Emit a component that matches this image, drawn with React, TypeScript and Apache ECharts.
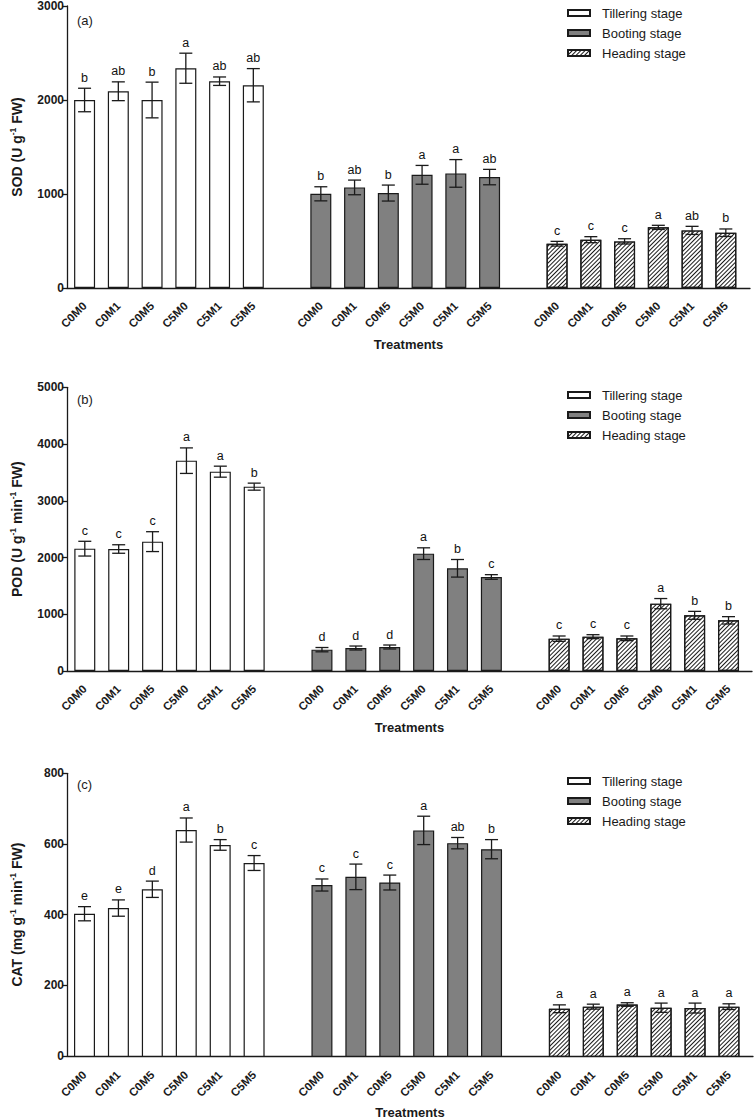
import React, { useEffect, useRef } from 'react';
import * as echarts from 'echarts';

const treatments = ['C0M0', 'C0M1', 'C0M5', 'C5M0', 'C5M1', 'C5M5'];
const stages = ['Tillering stage', 'Booting stage', 'Heading stage'];

// (a) SOD
const sodTillering = [2000, 2093, 2000, 2338, 2200, 2157];
const sodTilleringErr = [125, 100, 190, 160, 45, 177];
const sodTilleringLetters = ['b', 'ab', 'b', 'a', 'ab', 'ab'];
const sodBooting = [1002, 1070, 1010, 1204, 1219, 1180];
const sodBootingErr = [75, 78, 85, 100, 147, 82];
const sodBootingLetters = ['b', 'ab', 'b', 'a', 'a', 'ab'];
const sodHeading = [471, 514, 496, 645, 613, 588];
const sodHeadingErr = [25, 32, 28, 22, 43, 40];
const sodHeadingLetters = ['c', 'c', 'c', 'a', 'ab', 'b'];

// (b) POD
const podTillering = [2156, 2150, 2280, 3707, 3513, 3249];
const podTilleringErr = [130, 75, 175, 225, 97, 62];
const podTilleringLetters = ['c', 'c', 'c', 'a', 'a', 'b'];
const podBooting = [376, 405, 423, 2068, 1810, 1657];
const podBootingErr = [38, 35, 35, 103, 155, 41];
const podBootingLetters = ['d', 'd', 'd', 'a', 'b', 'c'];
const podHeading = [570, 605, 576, 1187, 981, 893];
const podHeadingErr = [47, 35, 41, 90, 70, 65];
const podHeadingLetters = ['c', 'c', 'c', 'a', 'b', 'b'];

// (c) CAT
const catTillering = [404, 420, 473, 640, 598, 547];
const catTilleringErr = [20, 23, 23, 34, 15, 21];
const catTilleringLetters = ['e', 'e', 'd', 'a', 'b', 'c'];
const catBooting = [485, 508, 492, 639, 603, 586];
const catBootingErr = [17, 36, 21, 40, 16, 27];
const catBootingLetters = ['c', 'c', 'c', 'a', 'ab', 'b'];
const catHeading = [136, 142, 148, 139, 138, 142];
const catHeadingErr = [11, 7, 5, 13, 14, 8];
const catHeadingLetters = ['a', 'a', 'a', 'a', 'a', 'a'];

const panelLabels = ['(a)', '(b)', '(c)'];
const yNames = [
  'SOD (U g{sup|-1} FW)',
  'POD (U g{sup|-1} min{sup|-1} FW)',
  'CAT (mg g{sup|-1} min{sup|-1} FW)',
];
const yMax = [3000, 5000, 800];
const yInterval = [1000, 1000, 200];
const xName = 'Treatments';

const panelValues = [
  [sodTillering, sodBooting, sodHeading],
  [podTillering, podBooting, podHeading],
  [catTillering, catBooting, catHeading],
];
const panelErrs = [
  [sodTilleringErr, sodBootingErr, sodHeadingErr],
  [podTilleringErr, podBootingErr, podHeadingErr],
  [catTilleringErr, catBootingErr, catHeadingErr],
];
const panelLetters = [
  [sodTilleringLetters, sodBootingLetters, sodHeadingLetters],
  [podTilleringLetters, podBootingLetters, podHeadingLetters],
  [catTilleringLetters, catBootingLetters, catHeadingLetters],
];

// layout (pixels)
const layouts = [
  { top: 6, height: 282, barLeft: 67.7, barWidth: 675, axisRight: 750, legendTop: 6, labelTop: 14 },
  { top: 387.3, height: 283.7, barLeft: 67.86, barWidth: 677.6, axisRight: 752, legendTop: 388, labelTop: 393 },
  { top: 773.3, height: 283.7, barLeft: 67.54, barWidth: 678.4, axisRight: 753, legendTop: 774, labelTop: 778 },
];

const FONT = 'Liberation Sans, Arial, Helvetica, sans-serif';
const INK = '#1a1a1a';

const categories: string[] = [];
stages.forEach((_, s) => {
  treatments.forEach((t) => categories.push(`${s}|${t}`));
  if (s < stages.length - 1) categories.push(`gap${s}`);
});

const stageStyles = [
  { color: '#ffffff', borderColor: INK, borderWidth: 1.2 },
  { color: '#808080', borderColor: INK, borderWidth: 1.2 },
  {
    color: '#ffffff',
    borderColor: INK,
    borderWidth: 1.2,
    decal: {
      symbol: 'rect',
      symbolSize: 1,
      color: '#1a1a1a',
      dashArrayX: [1, 0],
      dashArrayY: [1, 1.8],
      rotation: -Math.PI / 4,
    },
  },
];

function buildOption() {
  const grid: any[] = [];
  const xAxis: any[] = [];
  const yAxis: any[] = [];
  const series: any[] = [];
  const legend: any[] = [];
  const title: any[] = [];

  layouts.forEach((L, p) => {
    const A = p * 2;
    const B = p * 2 + 1;
    grid.push({ left: L.barLeft, top: L.top, width: L.barWidth, height: L.height, containLabel: false });
    grid.push({ left: 62, top: L.top, width: L.axisRight - 62, height: L.height, containLabel: false });

    xAxis.push({
      type: 'category',
      gridIndex: A,
      data: categories,
      axisLine: { show: false },
      axisTick: { show: false },
      splitLine: { show: false },
      axisLabel: {
        interval: 0,
        rotate: 45,
        margin: 16,
        fontSize: 11.5,
        fontWeight: 'bold',
        fontFamily: FONT,
        color: INK,
        formatter: (v: string) => (v.indexOf('|') >= 0 ? v.split('|')[1] : ''),
      },
    });
    xAxis.push({
      type: 'value',
      gridIndex: B,
      min: 0,
      max: 1,
      axisLine: { show: true, lineStyle: { color: INK, width: 1.3 } },
      axisTick: { show: false },
      axisLabel: { show: false },
      splitLine: { show: false },
      name: xName,
      nameLocation: 'middle',
      nameGap: 50,
      nameTextStyle: { fontSize: 13, fontWeight: 'bold', fontFamily: FONT, color: INK },
    });

    yAxis.push({
      type: 'value',
      gridIndex: A,
      min: 0,
      max: yMax[p],
      interval: yInterval[p],
      show: false,
    });
    yAxis.push({
      type: 'value',
      gridIndex: B,
      min: 0,
      max: yMax[p],
      interval: yInterval[p],
      axisLine: { show: true, lineStyle: { color: INK, width: 1.3 } },
      axisTick: { show: true, length: 5, lineStyle: { color: INK, width: 1.3 } },
      axisLabel: {
        fontSize: 12,
        fontWeight: 'bold',
        fontFamily: FONT,
        color: INK,
        margin: 3,
        formatter: (v: number) => String(v),
      },
      splitLine: { show: false },
      name: yNames[p],
      nameLocation: 'middle',
      nameGap: 42,
      nameTextStyle: {
        fontSize: 14,
        fontWeight: 'bold',
        fontFamily: FONT,
        color: INK,
        lineHeight: 17,
        rich: {
          sup: { fontSize: 8.5, fontWeight: 'bold', fontFamily: FONT, color: INK, verticalAlign: 'top', lineHeight: 9 },
        },
      },
    });

    stages.forEach((name, s) => {
      series.push({
        type: 'bar',
        name,
        xAxisIndex: A,
        yAxisIndex: A,
        barWidth: 21,
        barGap: '-100%',
        itemStyle: stageStyles[s],
        emphasis: { disabled: true },
        data: categories.map((_, i) => {
          const k = i - s * 7;
          return k >= 0 && k < treatments.length ? panelValues[p][s][k] : '-';
        }),
      });
    });

    const errData: number[][] = [];
    const letters: string[] = [];
    stages.forEach((_, s) => {
      treatments.forEach((__, k) => {
        errData.push([s * 7 + k, panelValues[p][s][k], panelErrs[p][s][k]]);
        letters.push(panelLetters[p][s][k]);
      });
    });

    series.push({
      type: 'custom',
      name: 'error',
      xAxisIndex: A,
      yAxisIndex: A,
      z: 5,
      silent: true,
      itemStyle: { color: '#111111' },
      encode: { x: 0, y: 1 },
      data: errData,
      renderItem: (params: any, api: any) => {
        const x = api.value(0);
        const m = api.value(1);
        const e = api.value(2);
        const top = api.coord([x, m + e]);
        const bot = api.coord([x, m - e]);
        const cx = top[0];
        const cap = 6.5;
        const st = { stroke: INK, lineWidth: 1.3 };
        return {
          type: 'group',
          children: [
            { type: 'line', shape: { x1: cx, y1: top[1], x2: cx, y2: bot[1] }, style: st },
            { type: 'line', shape: { x1: cx - cap, y1: top[1], x2: cx + cap, y2: top[1] }, style: st },
            { type: 'line', shape: { x1: cx - cap, y1: bot[1], x2: cx + cap, y2: bot[1] }, style: st },
            {
              type: 'text',
              style: {
                text: letters[params.dataIndex],
                x: cx,
                y: top[1] - 4,
                align: 'center',
                verticalAlign: 'bottom',
                fontSize: 12.5,
                fontFamily: FONT,
                fill: '#111111',
              },
            },
          ],
        };
      },
    });

    legend.push({
      data: stages,
      orient: 'vertical',
      left: 567,
      top: L.legendTop,
      padding: 0,
      itemWidth: 22,
      itemHeight: 6,
      itemGap: 6,
      icon: 'rect',
      selectedMode: false,
      textStyle: { fontSize: 13, lineHeight: 14, fontFamily: FONT, color: INK, padding: [0, 0, 0, 7] },
    });

    title.push({
      text: panelLabels[p],
      left: 77,
      top: L.labelTop,
      padding: 0,
      textStyle: { fontSize: 13, fontWeight: 'normal', fontFamily: FONT, color: INK },
    });
  });

  return {
    animation: false,
    backgroundColor: '#ffffff',
    textStyle: { fontFamily: FONT },
    grid,
    xAxis,
    yAxis,
    series,
    legend,
    title,
  };
}

export default function App() {
  const ref = useRef<HTMLDivElement>(null);
  useEffect(() => {
    if (!ref.current) return;
    const chart = echarts.init(ref.current, null, { renderer: 'svg' });
    chart.setOption(buildOption() as any);
    return () => chart.dispose();
  }, []);
  return (
    <div
      ref={ref}
      style={{ position: 'absolute', left: 0, top: 0, width: 754, height: 1120, background: '#fff' }}
    />
  );
}
